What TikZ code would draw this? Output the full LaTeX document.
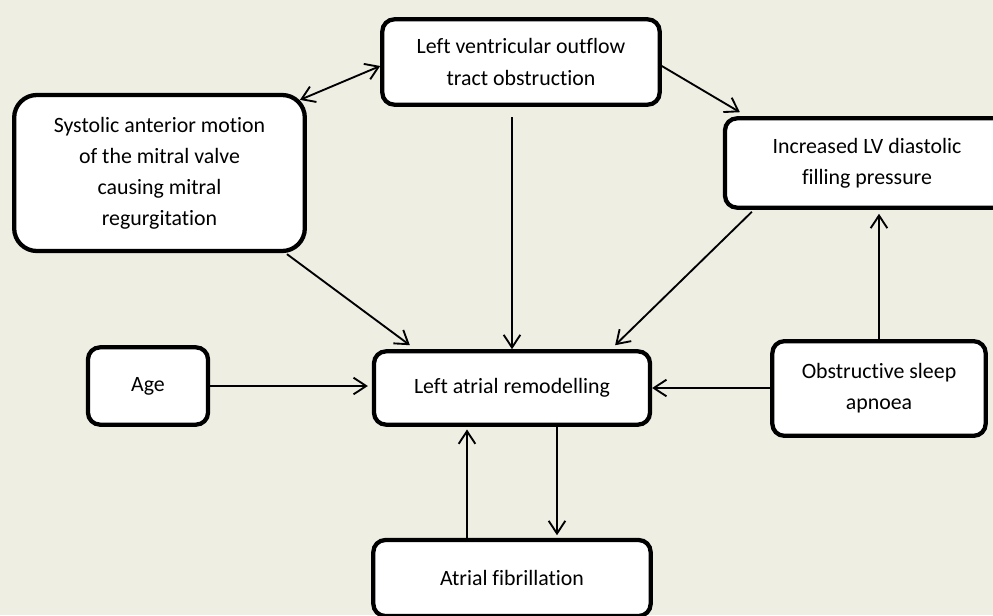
\documentclass[tikz,border=0pt]{standalone}
\usepackage{fontspec}
\setmainfont{Carlito}[Ligatures={NoCommon}]
\usetikzlibrary{arrows.meta}
\definecolor{bgbeige}{RGB}{238,238,227}

\begin{document}
\begin{tikzpicture}[x=0.75pt, y=-0.75pt,
		box/.style={draw, line width=3.2pt, fill=white, rounded corners=9pt, align=center,
			font=\fontsize{16.4}{23.3}\selectfont},
		arr/.style={line width=1.4pt, -{Straight Barb[length=9.5pt, width=12.5pt]}},
		arrboth/.style={line width=1.4pt, {Straight Barb[length=9.5pt, width=12.5pt]}-{Straight Barb[length=9.5pt, width=12.5pt]}}]
		\fill[bgbeige] (0, 0) rectangle (993, 615); % Background
		\clip (0, 0) rectangle (993, 615);
	
		\node[box, minimum width=208pt, minimum height=64pt] (lvot) at (521, 62) {Left ventricular outflow\\tract obstruction};
		\node[box, rounded corners=17pt, minimum width=218pt, minimum height=117pt] (sam) at (159.5, 173) {Systolic anterior motion\\of the mitral valve\\causing mitral\\regurgitation};
		\node[box, minimum width=213pt, minimum height=67pt] (ilv) at (867, 163) {Increased LV diastolic\\filling pressure};
		\node[box, minimum width=90pt, minimum height=58pt] (age) at (148, 386) {Age};
		\node[box, minimum width=207pt, minimum height=55pt] (lar) at (512, 388) {Left atrial remodelling};
		\node[box, minimum width=160pt, minimum height=71pt] (osa) at (879, 388.5) {Obstructive sleep\\apnoea};
		\node[box, minimum width=208pt, minimum height=57pt] (af) at (512, 578) {Atrial fibrillation};
		
		\coordinate (lar-l) at ([shift={(-45, 0)}]lar.south); % AF -> LAR
		\coordinate (lar-r) at ([shift={(45, 0)}]lar.south);  % LAR -> AF
		
		\draw[arrboth] ([shift={(-7, 7)}]sam.north east) -- ([shift={(0, 4)}]lvot.west);
		\draw[arr] ([shift={(0, 4)}]lvot.east) -- ([shift={(17, -4)}]ilv.north west);
		\draw[arr, shorten <=8pt] (lvot.south -| lar.north) -- (lar.north);
		\draw[arr] ([shift={(-20, 1)}]sam.south east) -- ([shift={(38, -4)}]lar.north west);
		\draw[arr] ([shift={(29, 2)}]ilv.south west) -- ([shift={(-37, -4)}]lar.north east);
		
		\draw[arr, shorten >=3pt] (age.east) -- (age.east -| lar.west);
		\draw[arr] (osa.west |- lar.east) -- (lar.east);
		\draw[arr, shorten >=3pt] (osa.north) -- (osa.north |- ilv.south);
		
		\draw[arr, shorten >=2pt] (lar-r) -- (lar-r |- af.north);
		\draw[arr, shorten >=2pt] (lar-l |- af.north) -- (lar-l);
\end{tikzpicture}
\end{document}
